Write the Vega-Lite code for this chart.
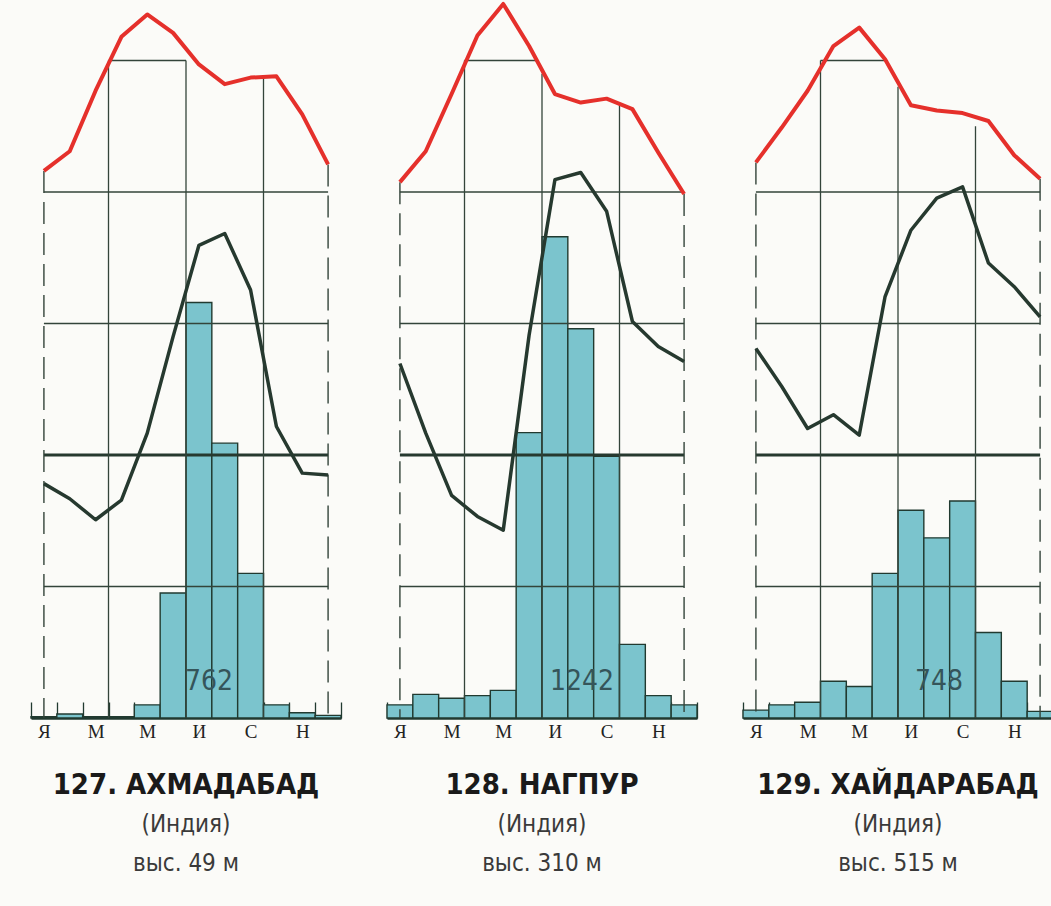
{
  "$schema": "https://vega.github.io/schema/vega-lite/v6.json",
  "background": "#fbfbf8",
  "padding": {"left": 30, "top": 0, "right": 0, "bottom": 40},
  "spacing": 46,
  "bounds": "flush",
  "config": {
    "view": {"stroke": null},
    "title": {
      "orient": "bottom", "anchor": "middle", "offset": 30,
      "font": "DejaVu Sans Condensed, Liberation Sans Narrow, Liberation Sans", "fontSize": 29, "fontWeight": "bold", "color": "#1a1a1a",
      "subtitleFont": "DejaVu Sans Condensed, Liberation Sans Narrow, Liberation Sans", "subtitleFontSize": 24, "subtitleColor": "#3a3a3a",
      "subtitlePadding": 13, "subtitleLineHeight": 39
    },
    "axisX": {
      "domainColor": "#213a30", "domainWidth": 2.5, "tickColor": "#213a30", "tickWidth": 1.3,
      "tickBand": "extent", "tickSize": -16, "labelFont": "Liberation Serif", "labelFontSize": 19,
      "labelColor": "#222222", "labelPadding": 20, "labelAngle": 0, "title": null, "grid": false
    }
  },
  "datasets": {
    "climate": [
      {"city": "A", "m": 1, "p": 1, "t": 21.6, "h": 35.7},
      {"city": "A", "m": 2, "p": 3, "t": 23.1, "h": 33.4},
      {"city": "A", "m": 3, "p": 1, "t": 27.7, "h": 30.2},
      {"city": "A", "m": 4, "p": 1, "t": 31.8, "h": 33.2},
      {"city": "A", "m": 5, "p": 10, "t": 33.5, "h": 43.4},
      {"city": "A", "m": 6, "p": 95, "t": 32.1, "h": 58.1},
      {"city": "A", "m": 7, "p": 316, "t": 29.7, "h": 72.0},
      {"city": "A", "m": 8, "p": 209, "t": 28.2, "h": 73.8},
      {"city": "A", "m": 9, "p": 110, "t": 28.7, "h": 65.2},
      {"city": "A", "m": 10, "p": 10, "t": 28.8, "h": 44.4},
      {"city": "A", "m": 11, "p": 4, "t": 25.9, "h": 37.3},
      {"city": "A", "m": 12, "p": 2, "t": 22.1, "h": 37.0},
      {"city": "N", "m": 1, "p": 10, "t": 20.75, "h": 54.0},
      {"city": "N", "m": 2, "p": 18, "t": 23.1, "h": 43.4},
      {"city": "N", "m": 3, "p": 15, "t": 27.45, "h": 33.9},
      {"city": "N", "m": 4, "p": 17, "t": 31.9, "h": 30.7},
      {"city": "N", "m": 5, "p": 21, "t": 34.3, "h": 28.6},
      {"city": "N", "m": 6, "p": 217, "t": 31.1, "h": 58.3},
      {"city": "N", "m": 7, "p": 366, "t": 27.45, "h": 82.0},
      {"city": "N", "m": 8, "p": 296, "t": 26.8, "h": 83.1},
      {"city": "N", "m": 9, "p": 199, "t": 27.1, "h": 77.2},
      {"city": "N", "m": 10, "p": 56, "t": 26.3, "h": 60.4},
      {"city": "N", "m": 11, "p": 17, "t": 23.0, "h": 56.6},
      {"city": "N", "m": 12, "p": 10, "t": 19.85, "h": 54.3},
      {"city": "H", "m": 1, "p": 6, "t": 22.25, "h": 56.3},
      {"city": "H", "m": 2, "p": 10, "t": 24.9, "h": 50.5},
      {"city": "H", "m": 3, "p": 12, "t": 27.7, "h": 44.1},
      {"city": "H", "m": 4, "p": 28, "t": 31.1, "h": 46.2},
      {"city": "H", "m": 5, "p": 24, "t": 32.5, "h": 43.1},
      {"city": "H", "m": 6, "p": 110, "t": 30.1, "h": 64.2},
      {"city": "H", "m": 7, "p": 158, "t": 26.6, "h": 74.3},
      {"city": "H", "m": 8, "p": 137, "t": 26.2, "h": 79.2},
      {"city": "H", "m": 9, "p": 165, "t": 26.0, "h": 80.9},
      {"city": "H", "m": 10, "p": 65, "t": 25.4, "h": 69.3},
      {"city": "H", "m": 11, "p": 28, "t": 22.8, "h": 65.7},
      {"city": "H", "m": 12, "p": 5, "t": 21.0, "h": 61.1}
    ],
    "hgrid": [
      {"city": "A", "level": 100, "from": 1, "to": 12},
      {"city": "A", "level": 200, "from": 1, "to": 12},
      {"city": "A", "level": 300, "from": 1, "to": 12},
      {"city": "A", "level": 400, "from": 1, "to": 12},
      {"city": "A", "level": 500, "from": 3.5, "to": 6.5},
      {"city": "N", "level": 100, "from": 1, "to": 12},
      {"city": "N", "level": 200, "from": 1, "to": 12},
      {"city": "N", "level": 300, "from": 1, "to": 12},
      {"city": "N", "level": 400, "from": 1, "to": 12},
      {"city": "N", "level": 500, "from": 3.5, "to": 6.3},
      {"city": "H", "level": 100, "from": 1, "to": 12},
      {"city": "H", "level": 200, "from": 1, "to": 12},
      {"city": "H", "level": 300, "from": 1, "to": 12},
      {"city": "H", "level": 400, "from": 1, "to": 12},
      {"city": "H", "level": 500, "from": 3.5, "to": 6.0}
    ],
    "vgrid": [
      {"city": "A", "m": 3.5, "top": 30},
      {"city": "A", "m": 6.5, "top": 30},
      {"city": "A", "m": 9.5, "top": 28.9},
      {"city": "N", "m": 3.5, "top": 30},
      {"city": "N", "m": 6.5, "top": 29.0},
      {"city": "N", "m": 9.5, "top": 26.8},
      {"city": "H", "m": 3.5, "top": 30},
      {"city": "H", "m": 6.5, "top": 28.0},
      {"city": "H", "m": 9.5, "top": 25.0}
    ],
    "info": [
      {"city": "A", "total": "762", "lx": 7.39},
      {"city": "N", "total": "1242", "lx": 8.05},
      {"city": "H", "total": "748", "lx": 8.09}
    ]
  },
  "hconcat": [
    {
      "width": 310, "height": 718,
      "title": {"text": "127. АХМАДАБАД", "subtitle": ["(Индия)", "выс. 49 м"]},
      "resolve": {"scale": {"x": "independent", "y": "independent"}},
      "layer": [
        {"data": {"name": "climate"}, "transform": [{"filter": "datum.city == 'A'"}],
         "mark": {"type": "bar", "fill": "#7bc4cd", "stroke": "#213a30", "strokeWidth": 1.4},
         "encoding": {
           "x": {"field": "m", "type": "ordinal", "scale": {"paddingInner": 0, "paddingOuter": 0},
                 "axis": {"labelExpr": "datum.value == 1 ? 'Я' : datum.value == 3 ? 'М' : datum.value == 5 ? 'М' : datum.value == 7 ? 'И' : datum.value == 9 ? 'С' : datum.value == 11 ? 'Н' : ''"}},
           "y": {"field": "p", "type": "quantitative", "scale": {"domain": [0, 546], "nice": false}, "axis": null}}},
        {"data": {"name": "hgrid"}, "transform": [{"filter": "datum.city == 'A' && datum.level != 200"}],
         "mark": {"type": "rule", "stroke": "#33443a", "strokeWidth": 1.3},
         "encoding": {
           "x": {"field": "from", "type": "quantitative", "scale": {"domain": [0.5, 12.5], "nice": false, "zero": false}, "axis": null},
           "x2": {"field": "to"},
           "y": {"field": "level", "type": "quantitative", "scale": {"domain": [0, 546], "nice": false}, "axis": null}}},
        {"data": {"name": "hgrid"}, "transform": [{"filter": "datum.city == 'A' && datum.level == 200"}],
         "mark": {"type": "rule", "stroke": "#26392f", "strokeWidth": 3.2},
         "encoding": {
           "x": {"field": "from", "type": "quantitative", "scale": {"domain": [0.5, 12.5], "nice": false, "zero": false}, "axis": null},
           "x2": {"field": "to"},
           "y": {"field": "level", "type": "quantitative", "scale": {"domain": [0, 546], "nice": false}, "axis": null}}},
        {"data": {"name": "vgrid"}, "transform": [{"filter": "datum.city == 'A'"}],
         "mark": {"type": "rule", "stroke": "#33443a", "strokeWidth": 1.3},
         "encoding": {
           "x": {"field": "m", "type": "quantitative", "scale": {"domain": [0.5, 12.5], "nice": false, "zero": false}, "axis": null},
           "y": {"field": "top", "type": "quantitative", "scale": {"domain": [-20, 34.6], "nice": false, "zero": false}, "axis": null},
           "y2": {"datum": -20}}},
        {"data": {"name": "climate"}, "transform": [{"filter": "datum.city == 'A' && (datum.m == 1 || datum.m == 12)"}],
         "mark": {"type": "rule", "stroke": "#33443a", "strokeWidth": 1.4, "strokeDash": [22, 9]},
         "encoding": {
           "x": {"field": "m", "type": "quantitative", "scale": {"domain": [0.5, 12.5], "nice": false, "zero": false}, "axis": null},
           "y": {"field": "t", "type": "quantitative", "scale": {"domain": [-20, 34.6], "nice": false, "zero": false}, "axis": null},
           "y2": {"datum": -20}}},
        {"data": {"name": "climate"}, "transform": [{"filter": "datum.city == 'A'"}],
         "mark": {"type": "line", "stroke": "#26392f", "strokeWidth": 3.5, "strokeJoin": "round"},
         "encoding": {
           "x": {"field": "m", "type": "quantitative", "scale": {"domain": [0.5, 12.5], "nice": false, "zero": false}, "axis": null},
           "y": {"field": "h", "type": "quantitative", "scale": {"domain": [0, 109.37], "nice": false}, "axis": null}}},
        {"data": {"name": "climate"}, "transform": [{"filter": "datum.city == 'A'"}],
         "mark": {"type": "line", "stroke": "#e5302b", "strokeWidth": 4, "strokeJoin": "round"},
         "encoding": {
           "x": {"field": "m", "type": "quantitative", "scale": {"domain": [0.5, 12.5], "nice": false, "zero": false}, "axis": null},
           "y": {"field": "t", "type": "quantitative", "scale": {"domain": [-20, 34.6], "nice": false, "zero": false}, "axis": null}}},
        {"data": {"name": "info"}, "transform": [{"filter": "datum.city == 'A'"}],
         "mark": {"type": "text", "font": "DejaVu Sans Condensed, Liberation Sans Narrow, Liberation Sans", "fontSize": 28, "color": "#35555a", "baseline": "alphabetic", "align": "center"},
         "encoding": {
           "x": {"field": "lx", "type": "quantitative", "scale": {"domain": [0.5, 12.5], "nice": false, "zero": false}, "axis": null},
           "y": {"datum": 21, "type": "quantitative", "scale": {"domain": [0, 546], "nice": false}, "axis": null},
           "text": {"field": "total"}}}
      ]
    },
    {
      "width": 310, "height": 718,
      "title": {"text": "128. НАГПУР", "subtitle": ["(Индия)", "выс. 310 м"]},
      "resolve": {"scale": {"x": "independent", "y": "independent"}},
      "layer": [
        {"data": {"name": "climate"}, "transform": [{"filter": "datum.city == 'N'"}],
         "mark": {"type": "bar", "fill": "#7bc4cd", "stroke": "#213a30", "strokeWidth": 1.4},
         "encoding": {
           "x": {"field": "m", "type": "ordinal", "scale": {"paddingInner": 0, "paddingOuter": 0},
                 "axis": {"labelExpr": "datum.value == 1 ? 'Я' : datum.value == 3 ? 'М' : datum.value == 5 ? 'М' : datum.value == 7 ? 'И' : datum.value == 9 ? 'С' : datum.value == 11 ? 'Н' : ''"}},
           "y": {"field": "p", "type": "quantitative", "scale": {"domain": [0, 546], "nice": false}, "axis": null}}},
        {"data": {"name": "hgrid"}, "transform": [{"filter": "datum.city == 'N' && datum.level != 200"}],
         "mark": {"type": "rule", "stroke": "#33443a", "strokeWidth": 1.3},
         "encoding": {
           "x": {"field": "from", "type": "quantitative", "scale": {"domain": [0.5, 12.5], "nice": false, "zero": false}, "axis": null},
           "x2": {"field": "to"},
           "y": {"field": "level", "type": "quantitative", "scale": {"domain": [0, 546], "nice": false}, "axis": null}}},
        {"data": {"name": "hgrid"}, "transform": [{"filter": "datum.city == 'N' && datum.level == 200"}],
         "mark": {"type": "rule", "stroke": "#26392f", "strokeWidth": 3.2},
         "encoding": {
           "x": {"field": "from", "type": "quantitative", "scale": {"domain": [0.5, 12.5], "nice": false, "zero": false}, "axis": null},
           "x2": {"field": "to"},
           "y": {"field": "level", "type": "quantitative", "scale": {"domain": [0, 546], "nice": false}, "axis": null}}},
        {"data": {"name": "vgrid"}, "transform": [{"filter": "datum.city == 'N'"}],
         "mark": {"type": "rule", "stroke": "#33443a", "strokeWidth": 1.3},
         "encoding": {
           "x": {"field": "m", "type": "quantitative", "scale": {"domain": [0.5, 12.5], "nice": false, "zero": false}, "axis": null},
           "y": {"field": "top", "type": "quantitative", "scale": {"domain": [-20, 34.6], "nice": false, "zero": false}, "axis": null},
           "y2": {"datum": -20}}},
        {"data": {"name": "climate"}, "transform": [{"filter": "datum.city == 'N' && (datum.m == 1 || datum.m == 12)"}],
         "mark": {"type": "rule", "stroke": "#33443a", "strokeWidth": 1.4, "strokeDash": [22, 9]},
         "encoding": {
           "x": {"field": "m", "type": "quantitative", "scale": {"domain": [0.5, 12.5], "nice": false, "zero": false}, "axis": null},
           "y": {"field": "t", "type": "quantitative", "scale": {"domain": [-20, 34.6], "nice": false, "zero": false}, "axis": null},
           "y2": {"datum": -20}}},
        {"data": {"name": "climate"}, "transform": [{"filter": "datum.city == 'N'"}],
         "mark": {"type": "line", "stroke": "#26392f", "strokeWidth": 3.5, "strokeJoin": "round"},
         "encoding": {
           "x": {"field": "m", "type": "quantitative", "scale": {"domain": [0.5, 12.5], "nice": false, "zero": false}, "axis": null},
           "y": {"field": "h", "type": "quantitative", "scale": {"domain": [0, 109.37], "nice": false}, "axis": null}}},
        {"data": {"name": "climate"}, "transform": [{"filter": "datum.city == 'N'"}],
         "mark": {"type": "line", "stroke": "#e5302b", "strokeWidth": 4, "strokeJoin": "round"},
         "encoding": {
           "x": {"field": "m", "type": "quantitative", "scale": {"domain": [0.5, 12.5], "nice": false, "zero": false}, "axis": null},
           "y": {"field": "t", "type": "quantitative", "scale": {"domain": [-20, 34.6], "nice": false, "zero": false}, "axis": null}}},
        {"data": {"name": "info"}, "transform": [{"filter": "datum.city == 'N'"}],
         "mark": {"type": "text", "font": "DejaVu Sans Condensed, Liberation Sans Narrow, Liberation Sans", "fontSize": 28, "color": "#35555a", "baseline": "alphabetic", "align": "center"},
         "encoding": {
           "x": {"field": "lx", "type": "quantitative", "scale": {"domain": [0.5, 12.5], "nice": false, "zero": false}, "axis": null},
           "y": {"datum": 21, "type": "quantitative", "scale": {"domain": [0, 546], "nice": false}, "axis": null},
           "text": {"field": "total"}}}
      ]
    },
    {
      "width": 310, "height": 718,
      "title": {"text": "129. ХАЙДАРАБАД", "subtitle": ["(Индия)", "выс. 515 м"]},
      "resolve": {"scale": {"x": "independent", "y": "independent"}},
      "layer": [
        {"data": {"name": "climate"}, "transform": [{"filter": "datum.city == 'H'"}],
         "mark": {"type": "bar", "fill": "#7bc4cd", "stroke": "#213a30", "strokeWidth": 1.4},
         "encoding": {
           "x": {"field": "m", "type": "ordinal", "scale": {"paddingInner": 0, "paddingOuter": 0},
                 "axis": {"labelExpr": "datum.value == 1 ? 'Я' : datum.value == 3 ? 'М' : datum.value == 5 ? 'М' : datum.value == 7 ? 'И' : datum.value == 9 ? 'С' : datum.value == 11 ? 'Н' : ''"}},
           "y": {"field": "p", "type": "quantitative", "scale": {"domain": [0, 546], "nice": false}, "axis": null}}},
        {"data": {"name": "hgrid"}, "transform": [{"filter": "datum.city == 'H' && datum.level != 200"}],
         "mark": {"type": "rule", "stroke": "#33443a", "strokeWidth": 1.3},
         "encoding": {
           "x": {"field": "from", "type": "quantitative", "scale": {"domain": [0.5, 12.5], "nice": false, "zero": false}, "axis": null},
           "x2": {"field": "to"},
           "y": {"field": "level", "type": "quantitative", "scale": {"domain": [0, 546], "nice": false}, "axis": null}}},
        {"data": {"name": "hgrid"}, "transform": [{"filter": "datum.city == 'H' && datum.level == 200"}],
         "mark": {"type": "rule", "stroke": "#26392f", "strokeWidth": 3.2},
         "encoding": {
           "x": {"field": "from", "type": "quantitative", "scale": {"domain": [0.5, 12.5], "nice": false, "zero": false}, "axis": null},
           "x2": {"field": "to"},
           "y": {"field": "level", "type": "quantitative", "scale": {"domain": [0, 546], "nice": false}, "axis": null}}},
        {"data": {"name": "vgrid"}, "transform": [{"filter": "datum.city == 'H'"}],
         "mark": {"type": "rule", "stroke": "#33443a", "strokeWidth": 1.3},
         "encoding": {
           "x": {"field": "m", "type": "quantitative", "scale": {"domain": [0.5, 12.5], "nice": false, "zero": false}, "axis": null},
           "y": {"field": "top", "type": "quantitative", "scale": {"domain": [-20, 34.6], "nice": false, "zero": false}, "axis": null},
           "y2": {"datum": -20}}},
        {"data": {"name": "climate"}, "transform": [{"filter": "datum.city == 'H' && (datum.m == 1 || datum.m == 12)"}],
         "mark": {"type": "rule", "stroke": "#33443a", "strokeWidth": 1.4, "strokeDash": [22, 9]},
         "encoding": {
           "x": {"field": "m", "type": "quantitative", "scale": {"domain": [0.5, 12.5], "nice": false, "zero": false}, "axis": null},
           "y": {"field": "t", "type": "quantitative", "scale": {"domain": [-20, 34.6], "nice": false, "zero": false}, "axis": null},
           "y2": {"datum": -20}}},
        {"data": {"name": "climate"}, "transform": [{"filter": "datum.city == 'H'"}],
         "mark": {"type": "line", "stroke": "#26392f", "strokeWidth": 3.5, "strokeJoin": "round"},
         "encoding": {
           "x": {"field": "m", "type": "quantitative", "scale": {"domain": [0.5, 12.5], "nice": false, "zero": false}, "axis": null},
           "y": {"field": "h", "type": "quantitative", "scale": {"domain": [0, 109.37], "nice": false}, "axis": null}}},
        {"data": {"name": "climate"}, "transform": [{"filter": "datum.city == 'H'"}],
         "mark": {"type": "line", "stroke": "#e5302b", "strokeWidth": 4, "strokeJoin": "round"},
         "encoding": {
           "x": {"field": "m", "type": "quantitative", "scale": {"domain": [0.5, 12.5], "nice": false, "zero": false}, "axis": null},
           "y": {"field": "t", "type": "quantitative", "scale": {"domain": [-20, 34.6], "nice": false, "zero": false}, "axis": null}}},
        {"data": {"name": "info"}, "transform": [{"filter": "datum.city == 'H'"}],
         "mark": {"type": "text", "font": "DejaVu Sans Condensed, Liberation Sans Narrow, Liberation Sans", "fontSize": 28, "color": "#35555a", "baseline": "alphabetic", "align": "center"},
         "encoding": {
           "x": {"field": "lx", "type": "quantitative", "scale": {"domain": [0.5, 12.5], "nice": false, "zero": false}, "axis": null},
           "y": {"datum": 21, "type": "quantitative", "scale": {"domain": [0, 546], "nice": false}, "axis": null},
           "text": {"field": "total"}}}
      ]
    }
  ]
}
